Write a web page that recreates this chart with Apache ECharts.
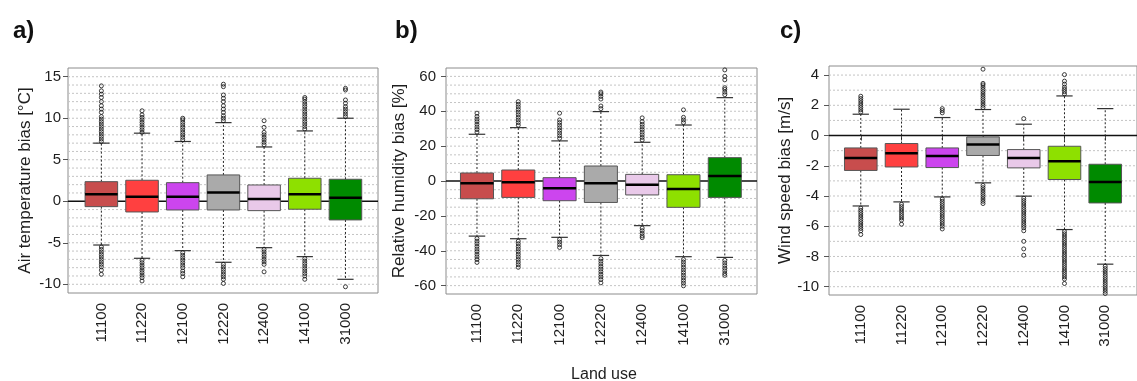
<!DOCTYPE html>
<html>
<head>
<meta charset="utf-8">
<script src="https://cdn.jsdelivr.net/npm/echarts@6/dist/echarts.min.js"></script>
<style>
  html, body { margin: 0; padding: 0; background: #fff; }
  #chart { width: 1137px; height: 381px; }
</style>
</head>
<body>
<div id="chart"></div>
<script>
// Land-use classes on the x axis of every panel
const landUse = ['11100', '11220', '12100', '12220', '12400', '14100', '31000'];
const boxColors = ['#c84d4d', '#ff4040', '#cc45ee', '#aaaaaa', '#e9c9e9', '#8ee000', '#008a00'];

// Box statistics per class: [lower whisker, Q1, median, Q3, upper whisker]
const tempStats = [
  [-5.27, -0.65, 0.84, 2.36, 7.0],
  [-6.87, -1.29, 0.55, 2.53, 8.2],
  [-5.95, -1.05, 0.55, 2.24, 7.2],
  [-7.35, -1.05, 1.04, 3.17, 9.47],
  [-5.59, -1.13, 0.28, 1.96, 6.54],
  [-6.67, -0.96, 0.84, 2.77, 8.47],
  [-9.4, -2.25, 0.43, 2.65, 10.0]
];
const tempOutliers = [
  [7.2, 7.5, 7.8, 8.1, 8.4, 8.7, 9.0, 9.3, 9.6, 9.9, 10.2, 10.7, 11.1, 11.5, 12.0, 12.5, 12.9, 13.3, 13.9,
   -5.5, -5.8, -6.1, -6.4, -6.7, -7.0, -7.3, -7.6, -7.9, -8.3, -8.8],
  [8.3, 8.6, 8.9, 9.2, 9.5, 9.8, 10.1, 10.4, 10.9,
   -7.1, -7.4, -7.7, -8.0, -8.3, -8.6, -8.9, -9.2, -9.6],
  [7.4, 7.7, 8.0, 8.3, 8.6, 8.9, 9.2, 9.5, 9.8, 10.0,
   -6.2, -6.5, -6.8, -7.1, -7.4, -7.7, -8.0, -8.4, -8.7, -9.1],
  [9.7, 10.0, 10.3, 10.7, 11.1, 11.5, 12.0, 12.4, 12.8, 13.8, 14.1,
   -7.6, -7.9, -8.2, -8.5, -8.8, -9.1, -9.4, -9.9],
  [6.8, 7.1, 7.4, 7.7, 8.0, 8.3, 8.9, 9.7,
   -5.8, -6.1, -6.4, -6.7, -7.0, -7.3, -7.6, -8.5],
  [8.7, 9.0, 9.3, 9.6, 9.9, 10.2, 10.5, 10.8, 11.1, 11.4, 11.7, 12.0, 12.3, 12.5,
   -6.9, -7.2, -7.5, -7.8, -8.1, -8.4, -8.7, -9.0, -9.4],
  [10.2, 10.5, 10.8, 11.1, 11.4, 11.8, 12.2, 13.4, 13.6,
   -10.3]
];
const tempTicks = [-10, -5, 0, 5, 10, 15];
const tempGridLines = [-10, -9, -8, -7, -6, -5, -4, -3, -2, -1, 1, 2, 3, 4, 5, 6, 7, 8, 9, 10, 11, 12, 13, 14, 15];

const humStats = [
  [-31.6, -10.2, -1.3, 4.6, 26.8],
  [-33.1, -9.4, -0.75, 6.3, 30.6],
  [-32.3, -11.3, -4.2, 1.9, 23.0],
  [-42.7, -12.3, -1.3, 8.6, 39.8],
  [-25.6, -8.0, -2.1, 3.8, 22.2],
  [-43.4, -15.1, -4.6, 3.6, 32.1],
  [-43.8, -9.4, 2.9, 13.4, 47.8]
];
const humOutliers = [
  [28, 29.5, 31, 32.5, 34, 35.5, 37, 38.9,
   -33, -34.5, -36, -37.5, -39, -40.5, -42, -43.5, -45, -46.7],
  [32, 33.5, 35, 36.5, 38, 39.5, 41, 42.5, 44, 45.5,
   -34.5, -36, -37.5, -39, -40.5, -42, -43.5, -45, -46.5, -48, -49.5],
  [24.5, 26, 27.5, 29, 30.5, 32, 33.5, 35, 38.9,
   -33.5, -35, -36.5, -38.1],
  [41.5, 43, 47, 48.5, 50, 51,
   -44.5, -46, -47.5, -49, -50.5, -52, -53.5, -55, -56.5, -58.4],
  [23.5, 25, 26.5, 28, 29.5, 31, 32.5, 34, 36.2,
   -27, -28.5, -30, -31.5, -32.5],
  [33.5, 35, 36.5, 40.8,
   -45, -46.5, -48, -49.5, -51, -52.5, -54, -55.5, -57, -58.5, -60.1],
  [49.5, 51, 52.5, 53.5, 58, 60, 63.7,
   -45.5, -47, -48.5, -50, -51.5, -53, -54.1]
];
const humTicks = [-60, -40, -20, 0, 20, 40, 60];
const humGridLines = [-60, -55, -50, -45, -40, -35, -30, -25, -20, -15, -10, -5, 5, 10, 15, 20, 25, 30, 35, 40, 45, 50, 55, 60];

const windStats = [
  [-4.66, -2.31, -1.48, -0.82, 1.41],
  [-4.39, -2.08, -1.17, -0.53, 1.74],
  [-4.06, -2.12, -1.35, -0.82, 1.19],
  [-3.13, -1.32, -0.6, -0.09, 1.72],
  [-4.01, -2.14, -1.48, -0.93, 0.75],
  [-6.22, -2.91, -1.7, -0.71, 2.62],
  [-8.51, -4.46, -3.07, -1.9, 1.78]
];
const windOutliers = [
  [1.55, 1.7, 1.85, 2.0, 2.15, 2.3, 2.45, 2.6,
   -4.8, -4.95, -5.1, -5.25, -5.4, -5.55, -5.7, -5.85, -6.0, -6.15, -6.3, -6.55],
  [-4.55, -4.7, -4.85, -5.0, -5.15, -5.3, -5.45, -5.6, -5.87],
  [1.5, 1.65, 1.78,
   -4.2, -4.35, -4.5, -4.65, -4.8, -4.95, -5.1, -5.25, -5.4, -5.55, -5.7, -5.85, -6.0, -6.18],
  [1.85, 2.0, 2.15, 2.3, 2.45, 2.6, 2.75, 2.9, 3.05, 3.2, 3.35, 3.45, 4.39,
   -3.3, -3.45, -3.6, -3.75, -3.9, -4.05, -4.2, -4.35, -4.5],
  [1.12,
   -4.15, -4.3, -4.45, -4.6, -4.75, -4.9, -5.05, -5.2, -5.35, -5.5, -5.65, -5.8, -5.95, -6.1, -6.3, -7.0, -7.5, -7.92],
  [2.75, 2.9, 3.05, 3.2, 3.4, 3.6, 4.03,
   -6.35, -6.5, -6.65, -6.8, -6.95, -7.1, -7.25, -7.4, -7.55, -7.7, -7.85, -8.0, -8.15, -8.3, -8.45, -8.6,
   -8.75, -8.9, -9.05, -9.2, -9.35, -9.5, -9.79],
  [-8.65, -8.8, -8.95, -9.1, -9.25, -9.4, -9.55, -9.7, -9.85, -10.0, -10.15, -10.3, -10.45]
];
const windTicks = [-10, -8, -6, -4, -2, 0, 2, 4];
const windGridLines = [-10, -9, -8, -7, -6, -5, -4, -3, -2, -1, 1, 2, 3, 4];

const FONT = '"Liberation Sans", Arial, Helvetica, sans-serif';
const TEXT = '#1e1e1e';

const panels = [
  { letter: 'a)', name: 'Air temperature bias [°C]', stats: tempStats, outliers: tempOutliers,
    ticks: tempTicks, gridLines: tempGridLines,
    grid: { left: 68, top: 68, width: 310, height: 225 }, x: [0.18, 7.8], y: [-11.05, 16.05],
    labelMargin: 7, nameGap: 34, letterPos: [8, 14] },
  { letter: 'b)', name: 'Relative humidity bias [%]', stats: humStats, outliers: humOutliers,
    ticks: humTicks, gridLines: humGridLines,
    grid: { left: 446, top: 68, width: 311, height: 226 }, x: [0.25, 7.78], y: [-64.8, 64.8],
    labelMargin: 10, nameGap: 38, letterPos: [390, 14] },
  { letter: 'c)', name: 'Wind speed bias [m/s]', stats: windStats, outliers: windOutliers,
    ticks: windTicks, gridLines: windGridLines,
    grid: { left: 829, top: 66, width: 315, height: 229 }, x: [0.22, 7.78], y: [-10.55, 4.6],
    labelMargin: 10, nameGap: 34, letterPos: [775, 14] }
];

const categoryPos = landUse.map((_, i) => i + 1);

// Dotted horizontal reference lines across the plotting area
function renderHLine(dash, color, width) {
  return function (params, api) {
    const cs = params.coordSys;
    const y = api.coord([1, api.value(0)])[1];
    return {
      type: 'line',
      shape: { x1: cs.x, y1: y, x2: cs.x + cs.width, y2: y },
      style: { stroke: color, lineWidth: width, lineDash: dash }
    };
  };
}

// Box, dashed whiskers with staples, and a heavy median bar
function renderBox(params, api) {
  const x = api.value(0);
  const lo = api.value(1), q1 = api.value(2), med = api.value(3), q3 = api.value(4), hi = api.value(5);
  const cx = api.coord([x, 0])[0];
  const bl = api.coord([x - 0.4, 0])[0], br = api.coord([x + 0.4, 0])[0];
  const sl = api.coord([x - 0.2, 0])[0], sr = api.coord([x + 0.2, 0])[0];
  const yLo = api.coord([x, lo])[1], yQ1 = api.coord([x, q1])[1], yMed = api.coord([x, med])[1];
  const yQ3 = api.coord([x, q3])[1], yHi = api.coord([x, hi])[1];
  const whisker = { stroke: '#222', lineWidth: 1, lineDash: [2, 2] };
  const staple = { stroke: '#333', lineWidth: 1.2 };
  return {
    type: 'group',
    children: [
      { type: 'line', shape: { x1: cx, y1: yQ3, x2: cx, y2: yHi }, style: whisker },
      { type: 'line', shape: { x1: cx, y1: yQ1, x2: cx, y2: yLo }, style: whisker },
      { type: 'line', shape: { x1: sl, y1: yHi, x2: sr, y2: yHi }, style: staple },
      { type: 'line', shape: { x1: sl, y1: yLo, x2: sr, y2: yLo }, style: staple },
      { type: 'rect', shape: { x: bl, y: yQ3, width: br - bl, height: yQ1 - yQ3 },
        style: { fill: boxColors[params.dataIndex], stroke: '#555', lineWidth: 1 } },
      { type: 'line', shape: { x1: bl, y1: yMed, x2: br, y2: yMed }, style: { stroke: '#000', lineWidth: 2.5 } }
    ]
  };
}

const option = {
  animation: false,
  backgroundColor: '#fff',
  textStyle: { fontFamily: FONT },
  title: panels.map(p => ({
    text: p.letter, left: p.letterPos[0], top: p.letterPos[1],
    textStyle: { fontSize: 24, fontWeight: 'bold', color: '#111', fontFamily: FONT }
  })),
  graphic: [{
    type: 'text', x: 604, y: 375,
    style: { text: 'Land use', align: 'center', verticalAlign: 'middle', fontSize: 16, fill: TEXT, fontFamily: FONT }
  }],
  grid: panels.map(p => Object.assign({ show: true, borderColor: '#8c8c8c', borderWidth: 1, backgroundColor: '#fff' }, p.grid)),
  xAxis: panels.map((p, i) => ({
    type: 'value', gridIndex: i, min: p.x[0], max: p.x[1],
    axisLine: { show: false },
    splitLine: { show: false },
    axisTick: { show: true, customValues: categoryPos, length: 5, lineStyle: { color: '#555' } },
    axisLabel: {
      customValues: categoryPos, rotate: 90, margin: 10, fontSize: 15, color: TEXT, fontFamily: FONT,
      formatter: v => landUse[Math.round(v) - 1]
    }
  })),
  yAxis: panels.map((p, i) => ({
    type: 'value', gridIndex: i, min: p.y[0], max: p.y[1],
    name: p.name, nameLocation: 'middle', nameGap: p.nameGap,
    nameTextStyle: { fontSize: 17, color: TEXT, fontFamily: FONT },
    axisLine: { show: false },
    splitLine: { show: false },
    axisTick: { show: true, customValues: p.ticks, length: 5, lineStyle: { color: '#555' } },
    axisLabel: { customValues: p.ticks, margin: p.labelMargin, fontSize: 15, color: TEXT, fontFamily: FONT }
  })),
  series: []
};

panels.forEach((p, i) => {
  option.series.push({
    type: 'custom', xAxisIndex: i, yAxisIndex: i, silent: true, z: 1,
    renderItem: renderHLine([2, 2], '#c4c4c4', 1),
    data: p.gridLines.map(v => [v])
  });
  option.series.push({
    type: 'custom', xAxisIndex: i, yAxisIndex: i, silent: true, z: 2,
    renderItem: renderHLine(null, '#111', 1.6),
    data: [[0]]
  });
  option.series.push({
    type: 'custom', xAxisIndex: i, yAxisIndex: i, silent: true, z: 3,
    renderItem: renderBox,
    data: p.stats.map((s, k) => [k + 1].concat(s))
  });
  const pts = [];
  p.outliers.forEach((list, k) => list.forEach(v => pts.push([k + 1, v])));
  option.series.push({
    type: 'scatter', xAxisIndex: i, yAxisIndex: i, silent: true, z: 4,
    symbol: 'circle', symbolSize: 4,
    itemStyle: { color: 'rgba(255,255,255,0)', borderColor: '#111', borderWidth: 1 },
    data: pts
  });
});

const chart = echarts.init(document.getElementById('chart'), null, { renderer: 'canvas' });
chart.setOption(option);
</script>
</body>
</html>
